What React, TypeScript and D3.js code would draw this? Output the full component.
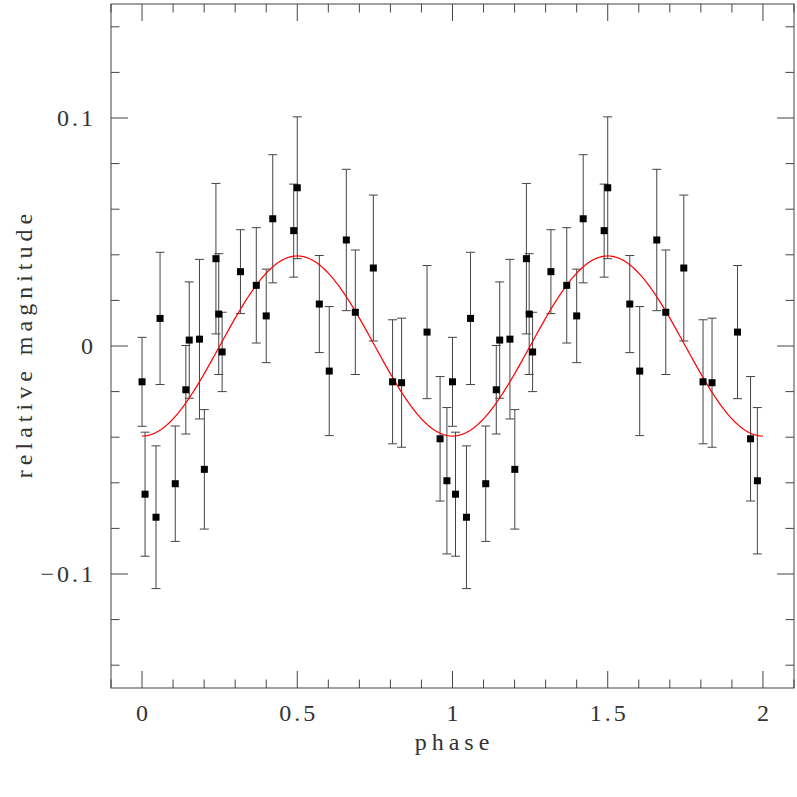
import React from "react";
import * as d3 from "d3";

// Observed phases, relative magnitudes and 1-sigma errors (phase 0..1; repeated at +1)
const phases = [0.0, 0.0097, 0.045, 0.058, 0.107, 0.141, 0.152, 0.185, 0.2007, 0.238, 0.247, 0.258, 0.317, 0.368, 0.4, 0.421, 0.4885, 0.5, 0.571, 0.603, 0.658, 0.687, 0.745, 0.807, 0.836, 0.918, 0.96, 0.982];
const mags = [-0.0157, -0.065, -0.0751, 0.0121, -0.0604, -0.0192, 0.0026, 0.003, -0.0541, 0.0383, 0.014, -0.0026, 0.0326, 0.0266, 0.0132, 0.0558, 0.0506, 0.0694, 0.0184, -0.011, 0.0465, 0.0148, 0.0342, -0.0157, -0.0161, 0.0061, -0.0407, -0.0591];
const errs = [0.0195, 0.0272, 0.0313, 0.029, 0.0253, 0.0194, 0.0255, 0.035, 0.0262, 0.033, 0.0265, 0.0174, 0.0184, 0.0253, 0.0205, 0.0281, 0.0204, 0.0311, 0.0213, 0.0283, 0.031, 0.0273, 0.032, 0.0272, 0.0283, 0.0292, 0.0273, 0.0321];

// Fitted sinusoidal model (minimum at phase 0)
const fitAmplitude = 0.0395;
const fitMean = 0;
const fitPhaseRange = [0, 2];

const xTicksMajor = [0, 0.5, 1, 1.5, 2];
const xTickLabels = ["0", "0.5", "1", "1.5", "2"];
const yTicksMajor = [-0.1, 0, 0.1];
const yTickLabels = ["\u22120.1", "0", "0.1"];

const xDomain = [-0.1, 2.1];
const yDomain = [-0.15, 0.15];

export default function App() {
  const W = 797, H = 797;
  const left = 111, right = 794, top = 4, bottom = 688;
  const x = d3.scaleLinear().domain(xDomain).range([left, right]);
  const y = d3.scaleLinear().domain(yDomain).range([bottom, top]);

  const xMinor = d3.range(-0.1, 2.1001, 0.1).map((v) => +v.toFixed(2));
  const yMinor = d3.range(-0.14, 0.1401, 0.02).map((v) => +v.toFixed(2));
  const isMajorX = (v: number) => xTicksMajor.some((m) => Math.abs(m - v) < 1e-6);
  const isMajorY = (v: number) => yTicksMajor.some((m) => Math.abs(m - v) < 1e-6);

  const points = phases.flatMap((p, i) => [
    { p, m: mags[i], e: errs[i] },
    { p: p + 1, m: mags[i], e: errs[i] },
  ]);

  const curvePts = d3.range(0, 401).map((k) => {
    const ph = fitPhaseRange[0] + ((fitPhaseRange[1] - fitPhaseRange[0]) * k) / 400;
    return [ph, fitMean - fitAmplitude * Math.cos(2 * Math.PI * ph)] as [number, number];
  });
  const line = d3.line<[number, number]>().x((d) => x(d[0])).y((d) => y(d[1]));

  const axisColor = "#444";
  const textColor = "#333";
  const majorLen = 17, minorLen = 8.5;
  const font = "'Liberation Serif', 'DejaVu Serif', serif";

  return (
    <svg width={W} height={H} style={{ position: "absolute", left: 0, top: 0, background: "#fff" }}>
      <rect x={0} y={0} width={W} height={H} fill="#fff" />
      {/* error bars */}
      <g stroke={axisColor} strokeWidth={1}>
        {points.map((d, i) => {
          const cx = x(d.p);
          const y1 = y(d.m + d.e), y2 = y(d.m - d.e);
          return (
            <g key={i}>
              <line x1={cx} x2={cx} y1={y1} y2={y2} />
              <line x1={cx - 4.5} x2={cx + 4.5} y1={y1} y2={y1} />
              <line x1={cx - 4.5} x2={cx + 4.5} y1={y2} y2={y2} />
            </g>
          );
        })}
      </g>
      {/* model curve */}
      <path d={line(curvePts) || ""} fill="none" stroke="#ff0000" strokeWidth={1.2} />
      {/* markers */}
      <g fill="#000">
        {points.map((d, i) => (
          <rect key={i} x={x(d.p) - 3.5} y={y(d.m) - 3.5} width={7} height={7} />
        ))}
      </g>
      {/* frame */}
      <rect x={left} y={top} width={right - left} height={bottom - top} fill="none" stroke={axisColor} strokeWidth={1} />
      {/* ticks on all four sides */}
      <g stroke={axisColor} strokeWidth={1}>
        {xMinor.map((v, i) => {
          const len = isMajorX(v) ? majorLen : minorLen;
          const px = x(v);
          return (
            <g key={i}>
              <line x1={px} x2={px} y1={bottom} y2={bottom - len} />
              <line x1={px} x2={px} y1={top} y2={top + len} />
            </g>
          );
        })}
        {yMinor.map((v, i) => {
          const len = isMajorY(v) ? majorLen : minorLen;
          const py = y(v);
          return (
            <g key={i}>
              <line x1={left} x2={left + len} y1={py} y2={py} />
              <line x1={right} x2={right - len} y1={py} y2={py} />
            </g>
          );
        })}
      </g>
      {/* tick labels */}
      <g fill={textColor} fontFamily={font} fontSize={24} letterSpacing={3}>
        {xTicksMajor.map((v, i) => (
          <text key={i} x={x(v) + 1.5} y={721} textAnchor="middle">
            {xTickLabels[i]}
          </text>
        ))}
        {yTicksMajor.map((v, i) => (
          <text key={i} x={96} y={y(v) + 8} textAnchor="end">
            {yTickLabels[i]}
          </text>
        ))}
      </g>
      {/* axis titles */}
      <text x={x(1) + 2} y={750} textAnchor="middle" fill={textColor} fontFamily={font} fontSize={24} letterSpacing={5}>
        phase
      </text>
      <text
        transform={`translate(32, ${y(0)}) rotate(-90)`}
        x={2.5}
        textAnchor="middle"
        fill={textColor}
        fontFamily={font}
        fontSize={24}
        letterSpacing={5}
      >
        relative magnitude
      </text>
    </svg>
  );
}
